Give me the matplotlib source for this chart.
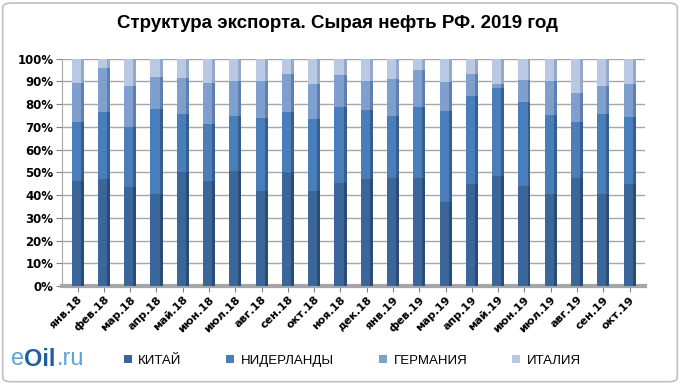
import numpy as np
import matplotlib.pyplot as plt
from matplotlib.patches import FancyBboxPatch

# Данные: доли экспорта (%) по странам
months = ['янв.18', 'фев.18', 'мар.18', 'апр.18', 'май.18', 'июн.18', 'июл.18', 'авг.18',
          'сен.18', 'окт.18', 'ноя.18', 'дек.18', 'янв.19', 'фев.19', 'мар.19', 'апр.19',
          'май.19', 'июн.19', 'июл.19', 'авг.19', 'сен.19', 'окт.19']
china = [46.2, 46.9, 43.7, 40.6, 50.3, 46.2, 50.6, 41.7, 50.3, 42.0, 45.4, 47.3,
         47.6, 47.5, 37.0, 44.7, 48.4, 44.0, 40.3, 47.6, 40.3, 45.0]
netherlands = [25.8, 29.8, 26.1, 37.3, 25.4, 25.0, 24.3, 32.1, 26.4, 31.5, 33.2, 30.1,
               27.0, 31.1, 40.1, 38.8, 38.6, 36.8, 34.9, 24.4, 35.4, 29.5]
germany = [17.4, 19.2, 18.4, 14.0, 15.9, 18.2, 15.5, 16.4, 16.7, 15.4, 14.3, 13.0,
           16.6, 16.5, 12.6, 9.9, 1.9, 9.9, 15.2, 13.0, 12.2, 14.3]
italy = [100 - a - b - c for a, b, c in zip(china, netherlands, germany)]

series = [china, netherlands, germany, italy]
names = ['КИТАЙ', 'НИДЕРЛАНДЫ', 'ГЕРМАНИЯ', 'ИТАЛИЯ']
colors = ['#3b6699', '#4a7ebb', '#7f9fcf', '#b9c8e3']
dark = ['#2a4c75', '#365f90', '#5f7fae', '#95a8c9']

fig = plt.figure(figsize=(6.8, 3.84), dpi=100)
fig.patches.append(FancyBboxPatch((0.004, 0.006), 0.992, 0.986, boxstyle='round,pad=0,rounding_size=0.012',
                                  transform=fig.transFigure, facecolor='none', edgecolor='#c0c0c0', lw=1.2))
ax = fig.add_axes([0.091, 0.255, 0.858, 0.592])
ax.patch.set_alpha(0)

x = np.arange(len(months))
w = 0.46
bottom = np.zeros(len(months))
for vals, name, c, d in zip(series, names, colors, dark):
    vals = np.array(vals)
    ax.bar(x, vals, w, bottom=bottom, color=c, label=name, zorder=3)
    # тёмная грань справа для эффекта объёма
    ax.bar(x + w * 0.38, vals, w * 0.24, bottom=bottom, color=d, zorder=3)
    bottom += vals

ax.set_ylim(0, 100)
ax.set_xlim(-0.6, len(months) - 0.4)
ax.set_yticks(np.arange(0, 101, 10))
ax.set_yticklabels([f'{v}%' for v in range(0, 101, 10)], fontsize=8.5, fontweight='bold')
ax.set_xticks(x)
ax.set_xticklabels(months, rotation=45, ha='right', rotation_mode='anchor', fontsize=8, fontweight='bold')
ax.grid(axis='y', color='#a6a6a6', lw=1, zorder=0)
for s in ['top', 'right']:
    ax.spines[s].set_visible(False)
ax.spines['left'].set_color('#a6a6a6')
ax.spines['bottom'].set_color('#a6a6a6')
ax.spines['bottom'].set_linewidth(3)
ax.tick_params(axis='y', length=4, color='#808080', pad=2)
ax.tick_params(axis='x', length=4, color='#808080', pad=2)

fig.text(0.497, 0.94, 'Структура экспорта. Сырая нефть РФ. 2019 год', ha='center', va='center',
         fontsize=13.5, fontweight='bold', family='Liberation Sans')

fig.legend(loc='center', bbox_to_anchor=(0.518, 0.06), ncol=4, frameon=False,
           handlelength=0.6, handleheight=0.6, columnspacing=3.4, handletextpad=0.5,
           prop={'family': 'Liberation Sans', 'size': 9.5})

# логотип
fig.text(0.016, 0.065, 'e', color='#5ba3d9', fontsize=17, family='Liberation Sans', va='center')
fig.text(0.036, 0.065, 'Oil', color='#1f5f9e', fontsize=17, family='Liberation Sans', va='center', fontweight='bold')
fig.text(0.083, 0.065, '.ru', color='#5ba3d9', fontsize=17, family='Liberation Sans', va='center')

fig.savefig('out.png', dpi=100)
